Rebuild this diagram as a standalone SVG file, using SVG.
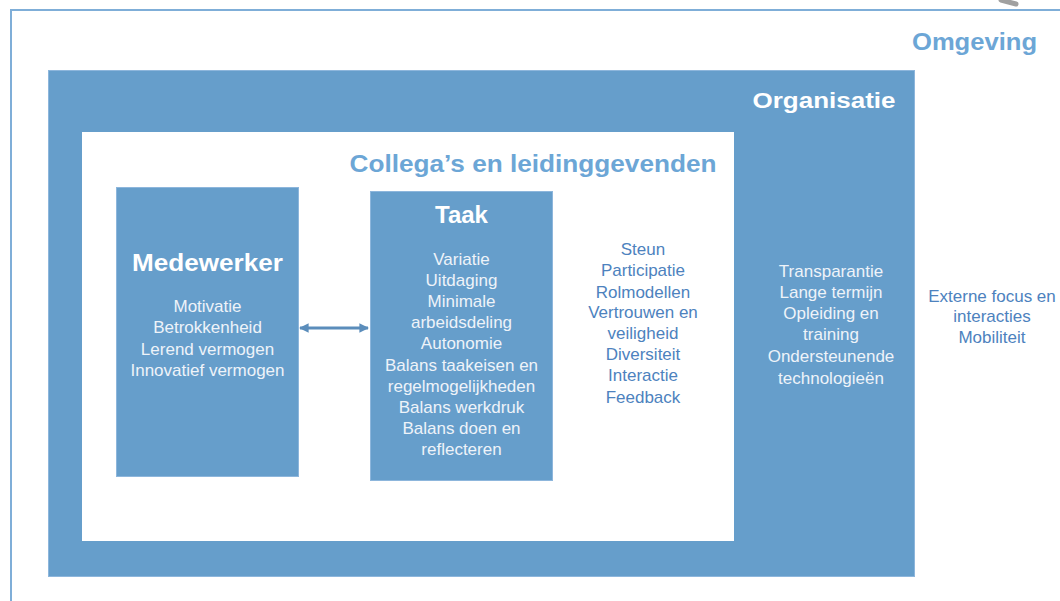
<svg xmlns="http://www.w3.org/2000/svg" width="1060" height="601" viewBox="0 0 1060 601">
  <style>
    text { font-family: "Liberation Sans", Arial, sans-serif; text-anchor: middle; }
    .box { fill: #669ECB; stroke: #8DB6DC; stroke-width: 1; }
    .title { font-weight: bold; fill: #FFFFFF; font-size: 24px; }
    .ltitle { font-weight: bold; fill: #6CA6D6; font-size: 24px; }
    .inbox { fill: #EEF3F9; font-size: 17px; }
    .outbox { fill: #4D82BE; font-size: 17px; }
  </style>
  <defs>
    <marker id="ah" viewBox="0 0 10 10" refX="9" refY="5" markerWidth="3.2" markerHeight="3.2" orient="auto-start-reverse" markerUnits="strokeWidth">
      <path d="M0,0 L10,5 L0,10 Z" fill="#5B8DBB"/>
    </marker>
  </defs>
  <rect width="1060" height="601" fill="#FFFFFF"/>
  <path d="M1001,0 L1016,4" stroke="#A0A0A0" stroke-width="5" stroke-linecap="round" fill="none"/>

  <g id="omgeving">
    <rect x="11" y="10" width="1100" height="700" fill="none" stroke="#7FAED8" stroke-width="2"/>
    <text class="ltitle" x="974.5" y="50" textLength="125" lengthAdjust="spacingAndGlyphs">Omgeving</text>
    <text class="outbox" x="992" y="302">Externe focus en</text>
    <text class="outbox" x="992" y="322">interacties</text>
    <text class="outbox" x="992" y="343">Mobiliteit</text>
  </g>

  <g id="organisatie">
    <rect class="box" x="48.5" y="70.5" width="866" height="506"/>
    <text class="title" x="824" y="108" textLength="143" lengthAdjust="spacingAndGlyphs" style="font-size:22px">Organisatie</text>
    <text class="inbox" x="831" y="277">Transparantie</text>
    <text class="inbox" x="831" y="298">Lange termijn</text>
    <text class="inbox" x="831" y="319">Opleiding  en</text>
    <text class="inbox" x="831" y="340">training</text>
    <text class="inbox" x="831" y="362">Ondersteunende</text>
    <text class="inbox" x="831" y="384">technologieën</text>
  </g>

  <g id="collegas">
    <rect x="82" y="132" width="652" height="409" fill="#FFFFFF"/>
    <text class="ltitle" x="533" y="172" textLength="367" lengthAdjust="spacingAndGlyphs">Collega’s en leidinggevenden</text>
    <text class="outbox" x="643" y="255">Steun</text>
    <text class="outbox" x="643" y="276">Participatie</text>
    <text class="outbox" x="643" y="298">Rolmodellen</text>
    <text class="outbox" x="643" y="318">Vertrouwen  en</text>
    <text class="outbox" x="643" y="339">veiligheid</text>
    <text class="outbox" x="643" y="360">Diversiteit</text>
    <text class="outbox" x="643" y="381">Interactie</text>
    <text class="outbox" x="643" y="403">Feedback</text>
  </g>

  <g id="medewerker">
    <rect class="box" x="116.5" y="187.5" width="182" height="289"/>
    <text class="title" x="207.5" y="271" textLength="151" lengthAdjust="spacingAndGlyphs">Medewerker</text>
    <text class="inbox" x="207.5" y="312">Motivatie</text>
    <text class="inbox" x="207.5" y="333">Betrokkenheid</text>
    <text class="inbox" x="207.5" y="355">Lerend vermogen</text>
    <text class="inbox" x="207.5" y="376">Innovatief vermogen</text>
  </g>

  <g id="taak">
    <rect class="box" x="370.5" y="191.5" width="182" height="289"/>
    <text class="title" x="461.5" y="223">Taak</text>
    <text class="inbox" x="461.5" y="265">Variatie</text>
    <text class="inbox" x="461.5" y="286">Uitdaging</text>
    <text class="inbox" x="461.5" y="307">Minimale</text>
    <text class="inbox" x="461.5" y="328">arbeidsdeling</text>
    <text class="inbox" x="461.5" y="349">Autonomie</text>
    <text class="inbox" x="461.5" y="371">Balans taakeisen en</text>
    <text class="inbox" x="461.5" y="392">regelmogelijkheden</text>
    <text class="inbox" x="461.5" y="413">Balans werkdruk</text>
    <text class="inbox" x="461.5" y="434">Balans doen en</text>
    <text class="inbox" x="461.5" y="455">reflecteren</text>
  </g>

  <g id="connectors">
    <line x1="300" y1="328" x2="368" y2="328" stroke="#5B8DBB" stroke-width="3" marker-start="url(#ah)" marker-end="url(#ah)"/>
  </g>
</svg>
